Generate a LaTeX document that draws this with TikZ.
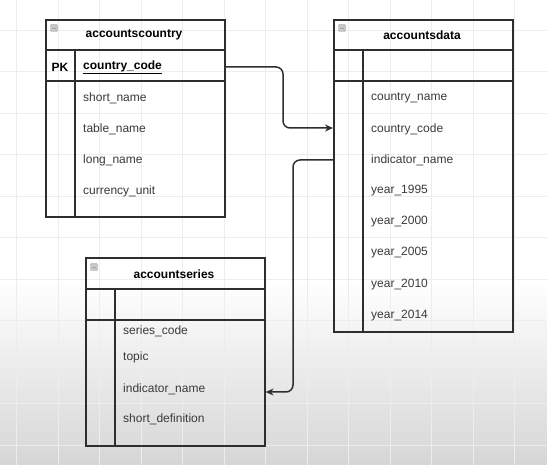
\documentclass[tikz,border=0pt]{standalone}
\usepackage{fontspec}
\setmainfont{Liberation Sans}
\usetikzlibrary{arrows.meta,calc}
\definecolor{linec}{HTML}{2E2E2E}
\definecolor{fieldc}{HTML}{3A3A3A}
\definecolor{gridc}{HTML}{EDEDED}
\definecolor{bottomc}{HTML}{D6D6D6}
\definecolor{iconc}{HTML}{C8C8C8}
\begin{document}
\begin{tikzpicture}[x=1pt,y=-1pt,
  tbl/.style={draw=linec, line width=1.6pt, minimum width=179pt, inner sep=0, anchor=north west},
  sep/.style={draw=linec, line width=1.6pt},
  ttl/.style={font=\fontsize{12}{14}\selectfont\bfseries, text=black, inner sep=0},
  fld/.style={font=\fontsize{12}{14}\selectfont, text=fieldc, anchor=west, inner sep=0},
  icon/.style={draw=gray!80, fill=iconc, minimum size=7pt, inner sep=0, rounded corners=0.8pt},
  conn/.style={draw=linec, line width=1.5pt, rounded corners=7pt, -{Stealth[length=8pt,width=7pt]}}
]
\useasboundingbox (0,0) rectangle (547,465);
% background
\fill[white] (0,0) rectangle (547,465);
\shade[top color=white, bottom color=bottomc] (0,280) rectangle (547,465);
\foreach \gx in {16.5,58,99.5,141,182.5,224,265.5,307,348.5,390,431.5,473,514.5}
  \draw[gridc, line width=0.8pt] (\gx,0) -- (\gx,465);
\foreach \gy in {30,71.5,113,154.5,196,237.5,279,320.5,362,403.5,445}
  \draw[gridc, line width=0.8pt] (0,\gy) -- (547,\gy);

% ---- accountscountry
\node[tbl, minimum height=197pt] (ac) at (45,19) {};
\draw[sep] (45,50) -- (224,50);
\draw[sep] (45,81) -- (224,81);
\draw[sep] (75,50) -- (75,216);
\node[icon] (ac-ic) at (54,28) {};
\draw[gray!70, line width=0.6pt] ($(ac-ic.west)+(1.5,0)$) -- ($(ac-ic.east)+(-1.5,0)$);
\node[ttl] (ac-t) at (134,35) {accountscountry};
\node[ttl] (ac-pk) at (60,67) {PK};
\node[fld, font=\fontsize{12}{14}\selectfont\bfseries, text=black] (ac-cc) at (83,67) {\underline{country\_code}};
\node[fld] (ac-sn) at (83,98) {short\_name};
\node[fld] (ac-tn) at (83,129) {table\_name};
\node[fld] (ac-ln) at (83,160) {long\_name};
\node[fld] (ac-cu) at (83,191) {currency\_unit};

% ---- accountsdata
\node[tbl, minimum height=312pt] (ad) at (333,19) {};
\draw[sep] (333,50) -- (512,50);
\draw[sep] (333,81) -- (512,81);
\draw[sep] (363,50) -- (363,331);
\node[icon] (ad-ic) at (342,28) {};
\draw[gray!70, line width=0.6pt] ($(ad-ic.west)+(1.5,0)$) -- ($(ad-ic.east)+(-1.5,0)$);
\node[ttl] (ad-t) at (422,35) {accountsdata};
\node[fld] (ad-cn) at (371,98) {country\_name};
\node[fld] (ad-cc) at (371,129) {country\_code};
\node[fld] (ad-in) at (371,160) {indicator\_name};
\node[fld] (ad-y1) at (371,191) {year\_1995};
\node[fld] (ad-y2) at (371,222) {year\_2000};
\node[fld] (ad-y3) at (371,253) {year\_2005};
\node[fld] (ad-y4) at (371,285) {year\_2010};
\node[fld] (ad-y5) at (371,316) {year\_2014};

% ---- accountseries
\node[tbl, minimum height=188pt] (as) at (85,257) {};
\draw[sep] (85,289) -- (264,289);
\draw[sep] (85,320) -- (264,320);
\draw[sep] (115,289) -- (115,445);
\node[icon] (as-ic) at (94,267) {};
\draw[gray!70, line width=0.6pt] ($(as-ic.west)+(1.5,0)$) -- ($(as-ic.east)+(-1.5,0)$);
\node[ttl] (as-t) at (174,274) {accountseries};
\node[fld] (as-sc) at (123,331) {series\_code};
\node[fld] (as-tp) at (123,357) {topic};
\node[fld] (as-in) at (123,389) {indicator\_name};
\node[fld] (as-sd) at (123,419) {short\_definition};

% ---- connectors
\coordinate (b1) at (283,0);
\coordinate (b2) at (293,0);
\coordinate (e1) at ($(ad.west |- ad-cc)+(0,-1)$);
\coordinate (e2) at ($(as.east |- as-in)+(0,3)$);
\draw[conn] (ac.east |- ac-cc) -| (b1 |- e1) -- (e1);
\draw[conn] (ad.west |- ad-in) -| (b2 |- e2) -- (e2);
\end{tikzpicture}
\end{document}
